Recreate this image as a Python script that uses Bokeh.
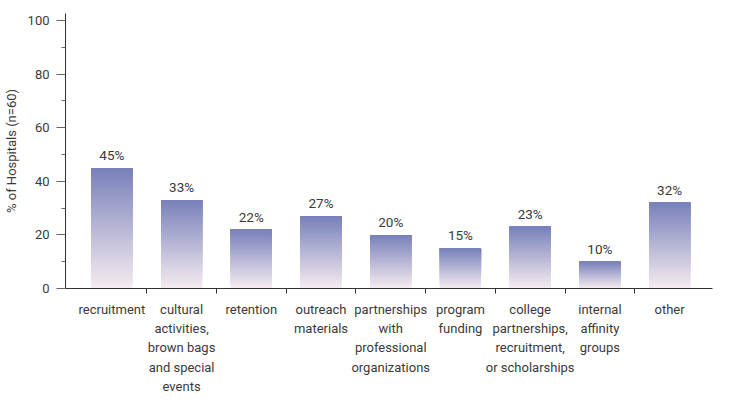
from bokeh.plotting import figure
from bokeh.models import Range1d, FixedTicker, ColumnDataSource
from bokeh.core.properties import value
from bokeh.embed import file_html
from bokeh.resources import INLINE

categories = ["recruitment", "cultural\nactivities,\nbrown bags\nand special\nevents", "retention",
              "outreach\nmaterials", "partnerships\nwith\nprofessional\norganizations", "program\nfunding",
              "college\npartnerships,\nrecruitment,\nor scholarships", "internal\naffinity\ngroups", "other"]
values = [45, 33, 22, 27, 20, 15, 23, 10, 32]
y_ticks = [0, 20, 40, 60, 80, 100]
y_minor = [10, 30, 50, 70, 90]

FONT = "Roboto"
FS = "13px"
TXT = "#3a3a3a"
TOP = (120, 128, 186)
BOT = (246, 236, 240)
N = 60
BAR_W = 0.59

xs = list(range(1, len(values) + 1))

left, right, bottom, top, color = [], [], [], [], []
for k in range(N):
    f = (k + 0.5) / N
    c = tuple(int(round(BOT[j] + (TOP[j] - BOT[j]) * f)) for j in range(3))
    for x, v in zip(xs, values):
        left.append(x - BAR_W / 2)
        right.append(x + BAR_W / 2)
        bottom.append(v * k / N)
        top.append(v)
        color.append("#%02x%02x%02x" % c)

p = figure(frame_width=647, frame_height=275, output_backend="svg", toolbar_location=None,
           x_range=Range1d(0.335, 9.615), y_range=Range1d(0, 102.6),
           min_border_left=62, min_border_top=13, min_border_right=11, min_border_bottom=98)
p.outline_line_color = None
p.grid.grid_line_color = None
p.background_fill_color = "white"

p.quad(left=left, right=right, bottom=bottom, top=top, fill_color=color, line_color=None)

src = ColumnDataSource(dict(x=xs, y=values, t=[f"{v}%" for v in values]))
p.text(x="x", y="y", text="t", source=src, text_align="center", text_baseline="bottom",
       y_offset=-5, text_font_size="13.5px", text_color=TXT, text_font=value(FONT))

# y axis
ya = p.yaxis[0]
ya.ticker = FixedTicker(ticks=y_ticks, minor_ticks=y_minor)
ya.axis_label = "% of Hospitals (n=60)"
ya.axis_label_text_font = FONT
ya.axis_label_text_font_style = "normal"
ya.axis_label_text_font_size = FS
ya.axis_label_text_color = TXT
ya.axis_label_standoff = 6
ya.major_label_text_font = FONT
ya.major_label_text_font_size = "13px"
ya.major_label_text_color = TXT
ya.major_label_standoff = 7
ya.major_tick_out = 9
ya.major_tick_in = 0
ya.minor_tick_out = 4
ya.minor_tick_in = 0
ya.axis_line_color = "#333333"
ya.major_tick_line_color = "#666666"
ya.minor_tick_line_color = "#666666"

# x axis
xa = p.xaxis[0]
xa.ticker = FixedTicker(ticks=xs, minor_ticks=[x + 0.5 for x in xs[:-1]])
xa.major_label_overrides = {x: c for x, c in zip(xs, categories)}
xa.major_label_text_font = FONT
xa.major_label_text_font_size = FS
xa.major_label_text_color = TXT
xa.major_label_text_line_height = 1.29
xa.major_label_standoff = 8
xa.major_tick_out = 0
xa.major_tick_in = 0
xa.major_tick_line_color = None
xa.minor_tick_out = 5
xa.minor_tick_in = 0
xa.minor_tick_line_color = "#333333"
xa.axis_line_color = "#333333"

open("out.html", "w").write(file_html(p, INLINE))
